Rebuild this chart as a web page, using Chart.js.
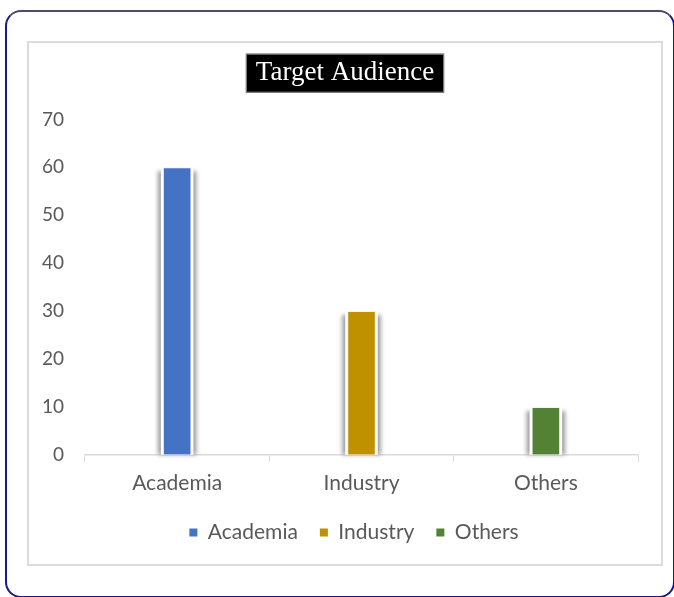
<!DOCTYPE html>
<html>
<head>
<meta charset="utf-8">
<script src="https://cdn.jsdelivr.net/npm/chart.js@4.4.0/dist/chart.umd.min.js"></script>
<style>
    html, body {
        margin: 0;
        padding: 0;
        background: #ffffff;
        width: 674px;
        height: 597px;
        overflow: hidden;
    }
    .frame {
        position: absolute;
        left: 5px;
        top: 10px;
        width: 666px;
        height: 584px;
        border: 2px solid #1a1a86;
        border-top-color: #4b4b6b;
        border-radius: 16px;
    }
    .panel {
        position: absolute;
        left: 27px;
        top: 41px;
        width: 632px;
        height: 521px;
        border: 2px solid #dcdcdc;
    }
    .panel canvas {
        display: block;
    }
</style>
</head>
<body>
<div class="frame"></div>
<div class="panel">
    <canvas id="audienceChart" width="632" height="521"></canvas>
</div>
<script>
const categories = ["Academia", "Industry", "Others"];
const audienceValues = [60, 30, 10];
const barColors = ["#4472C4", "#BF9000", "#548235"];
const yMax = 70;
const yStep = 10;

const labelFont = { family: "Lato", size: 21 };
const tickFont = { family: "Lato", size: 19 };
const textColor = "#595959";

// black box behind the title, sized from the title text
const titleBoxPlugin = {
    id: "titleBox",
    afterLayout: (chart) => {
        // centre title and legend on the panel rather than the padded area
        if (chart.titleBlock) {
            chart.titleBlock.left = 0;
            chart.titleBlock.right = chart.width;
        }
        if (chart.legend) {
            chart.legend.left = 18;
            chart.legend.right = chart.width;
        }
    },
    beforeDraw: (chart) => {
        const block = chart.titleBlock;
        if (!block) return;
        const opts = chart.options.plugins.title;
        const { ctx } = chart;
        ctx.save();
        ctx.font = `${opts.font.size}px ${opts.font.family}`;
        const w = ctx.measureText(opts.text).width + 20;
        const h = 39;
        const cx = (block.left + block.right) / 2;
        const cy = block.top + opts.padding.top + (opts.font.size * 1.2) / 2;
        ctx.fillStyle = "#000000";
        ctx.fillRect(cx - w / 2, cy - h / 2, w, h);
        ctx.strokeStyle = "#8c8c8c";
        ctx.lineWidth = 1;
        ctx.strokeRect(cx - w / 2 + 0.5, cy - h / 2 + 0.5, w - 1, h - 1);
        ctx.restore();
    },
};

// soft grey strips down both sides of each bar, like the Excel shadow
const barShadowPlugin = {
    id: "barShadow",
    beforeDatasetsDraw: (chart) => {
        const { ctx } = chart;
        const bars = chart.getDatasetMeta(0).data;
        ctx.save();
        bars.forEach((bar) => {
            const { x, y, base, width } = bar.getProps(["x", "y", "base", "width"], true);
            const h = base - y;
            ctx.filter = "blur(2px)";
            ctx.fillStyle = "#9e9e9e";
            ctx.fillRect(x - width / 2 - 5, y + 4, width + 10, h - 4);
            ctx.filter = "none";
            ctx.fillStyle = "#ffffff";
            ctx.fillRect(x - width / 2 - 2, y - 2, width + 4, h + 2);
        });
        ctx.restore();
    },
};

const ctx = document.getElementById("audienceChart").getContext("2d");
const audienceChart = new Chart(ctx, {
    type: "bar",
    data: {
        labels: categories,
        datasets: [
            {
                label: "Target Audience",
                data: audienceValues,
                backgroundColor: barColors,
                borderColor: "#f2f2f2",
                borderWidth: 1,
                barPercentage: 0.155,
                categoryPercentage: 1,
            },
        ],
    },
    options: {
        responsive: false,
        animation: false,
        layout: {
            padding: { left: 0, right: 23, top: 0, bottom: 11 },
        },
        scales: {
            x: {
                grid: {
                    display: true,
                    drawOnChartArea: false,
                    drawTicks: true,
                    tickLength: 7,
                    color: "#d9d9d9",
                    offset: true,
                },
                border: {
                    display: true,
                    color: "#d9d9d9",
                    width: 1.5,
                },
                ticks: {
                    color: textColor,
                    font: labelFont,
                    padding: 9,
                },
                afterFit: (scale) => {
                    scale.height -= 5;
                },
            },
            y: {
                min: 0,
                max: yMax,
                grid: {
                    display: false,
                    drawTicks: false,
                },
                border: {
                    display: false,
                },
                ticks: {
                    stepSize: yStep,
                    color: textColor,
                    font: tickFont,
                    padding: 21,
                },
                afterFit: (scale) => {
                    scale.width = 56;
                },
            },
        },
        plugins: {
            title: {
                display: true,
                text: "Target Audience",
                color: "#ffffff",
                font: { family: "Liberation Serif", size: 27, weight: "normal" },
                padding: { top: 14, bottom: 30 },
            },
            legend: {
                display: true,
                position: "bottom",
                labels: {
                    color: textColor,
                    font: labelFont,
                    boxWidth: 8,
                    boxHeight: 8,
                    padding: 22,
                    generateLabels: () =>
                        categories.map((name, i) => ({
                            text: name,
                            fillStyle: barColors[i],
                            strokeStyle: barColors[i],
                            lineWidth: 0,
                            fontColor: textColor,
                            hidden: false,
                            index: i,
                        })),
                },
            },
            tooltip: {
                enabled: false,
            },
        },
    },
    plugins: [titleBoxPlugin, barShadowPlugin],
});
</script>
</body>
</html>
